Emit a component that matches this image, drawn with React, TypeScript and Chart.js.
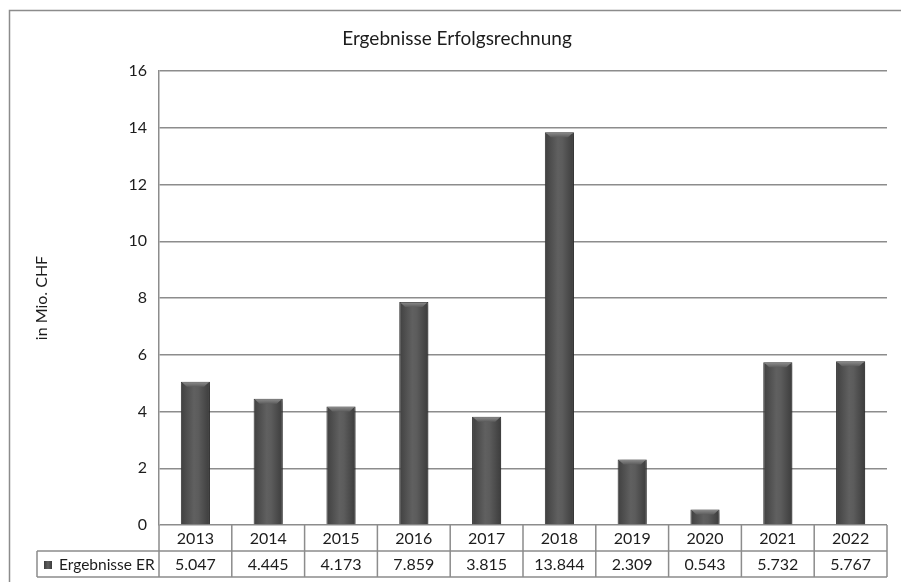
import React, { useEffect, useRef } from "react";
import { Chart, registerables } from "chart.js";

Chart.register(...registerables);

const chartTitle = "Ergebnisse Erfolgsrechnung";
const yAxisTitle = "in Mio. CHF";
const seriesName = "Ergebnisse ER";
const years = ["2013", "2014", "2015", "2016", "2017", "2018", "2019", "2020", "2021", "2022"];
const values = [5.047, 4.445, 4.173, 7.859, 3.815, 13.844, 2.309, 0.543, 5.732, 5.767];
const valueLabels = ["5.047", "4.445", "4.173", "7.859", "3.815", "13.844", "2.309", "0.543", "5.732", "5.767"];
const yTicks = { min: 0, max: 16, step: 2 };

const FONT = "Lato, 'DejaVu Sans', sans-serif";
const TEXT = "#1c1c1c";
const LINE = "#8c8c8c";
const BAR_PCT = 0.4;

export default function App() {
  const ref = useRef<HTMLCanvasElement | null>(null);

  useEffect(() => {
    const canvas = ref.current;
    if (!canvas) return;

    const framePlugin = {
      id: "frame",
      beforeDraw(chart: any) {
        const c = chart.ctx;
        c.save();
        c.fillStyle = "#ffffff";
        c.fillRect(0, 0, chart.width, chart.height);
        c.strokeStyle = LINE;
        c.lineWidth = 1.5;
        c.strokeRect(9.5, 10.5, chart.width + 20, chart.height + 20);
        c.fillStyle = TEXT;
        c.font = `19px ${FONT}`;
        c.textAlign = "center";
        c.textBaseline = "middle";
        c.fillText(chartTitle, 457, 39);
        c.restore();
      },
      beforeDatasetsDraw(chart: any) {
        const c = chart.ctx;
        c.save();
        c.shadowColor = "rgba(0,0,0,0.35)";
        c.shadowBlur = 4;
        c.shadowOffsetX = 2;
        c.shadowOffsetY = 1;
      },
      afterDatasetsDraw(chart: any) {
        const c = chart.ctx;
        c.restore();
        const meta = chart.getDatasetMeta(0);
        c.save();
        meta.data.forEach((el: any) => {
          const w = el.width;
          const l = el.x - w / 2;
          const r = el.x + w / 2;
          const t = el.y;
          const bh = Math.min(5, Math.abs(el.base - el.y));
          const g = c.createLinearGradient(0, t, 0, t + bh);
          g.addColorStop(0, "#8e8e8e");
          g.addColorStop(1, "#5c5c5c");
          c.fillStyle = g;
          c.beginPath();
          c.moveTo(l + 1, t + 0.5);
          c.lineTo(r - 1, t + 0.5);
          c.lineTo(r - 1 - bh, t + bh);
          c.lineTo(l + 1 + bh, t + bh);
          c.closePath();
          c.fill();
        });
        c.restore();
      },
      afterDraw(chart: any) {
        const c = chart.ctx;
        const xs = chart.scales.x;
        const area = chart.chartArea;
        const n = years.length;
        const cw = area.width / n;
        const y0 = area.bottom;
        const y1 = y0 + 26;
        const y2 = y1 + 26;
        const labelLeft = 37;
        c.save();
        c.strokeStyle = LINE;
        c.lineWidth = 1.5;
        c.beginPath();
        c.moveTo(labelLeft, y1);
        c.lineTo(area.right, y1);
        c.moveTo(labelLeft, y2);
        c.lineTo(area.right, y2);
        c.moveTo(labelLeft, y1);
        c.lineTo(labelLeft, y2);
        for (let i = 0; i <= n; i++) {
          const x = i < n ? xs.getPixelForValue(i) - cw / 2 : xs.getPixelForValue(n - 1) + cw / 2;
          c.moveTo(x, y0);
          c.lineTo(x, y2);
        }
        c.stroke();
        c.fillStyle = TEXT;
        c.font = `16px ${FONT}`;
        c.textAlign = "center";
        c.textBaseline = "middle";
        for (let i = 0; i < n; i++) {
          const x = xs.getPixelForValue(i);
          c.fillText(years[i], x, (y0 + y1) / 2 + 1);
          c.fillText(valueLabels[i], x, (y1 + y2) / 2 + 1);
        }
        c.textAlign = "left";
        c.font = `15.5px ${FONT}`;
        c.fillText(seriesName, 59, (y1 + y2) / 2 + 1);
        const sg = c.createLinearGradient(44, 0, 52, 0);
        sg.addColorStop(0, "#3c3c3c");
        sg.addColorStop(0.5, "#606060");
        sg.addColorStop(1, "#3c3c3c");
        c.fillStyle = sg;
        c.fillRect(44, 561, 8, 8);
        c.restore();
      },
    };

    const chart = new Chart(canvas, {
      type: "bar",
      data: {
        labels: years,
        datasets: [
          {
            label: seriesName,
            data: values,
            barPercentage: BAR_PCT,
            categoryPercentage: 1,
            borderColor: "#3a3a3a",
            borderWidth: 1,
            backgroundColor: (ctx: any) => {
              const ch = ctx.chart;
              const area = ch.chartArea;
              if (!area) return "#555555";
              const x = ch.scales.x.getPixelForValue(ctx.dataIndex);
              const w = (area.width / years.length) * BAR_PCT;
              const g = ch.ctx.createLinearGradient(x - w / 2, 0, x + w / 2, 0);
              g.addColorStop(0, "#404040");
              g.addColorStop(0.45, "#606060");
              g.addColorStop(0.6, "#5c5c5c");
              g.addColorStop(1, "#3c3c3c");
              return g;
            },
          },
        ],
      },
      options: {
        responsive: false,
        animation: false,
        devicePixelRatio: 1,
        layout: { padding: { left: 30, top: 71, right: 14, bottom: 57 } },
        plugins: {
          legend: { display: false },
          title: { display: false },
          tooltip: { enabled: false },
        },
        scales: {
          x: { display: false },
          y: {
            min: yTicks.min,
            max: yTicks.max,
            afterFit: (s: any) => {
              s.width = 129;
            },
            ticks: {
              stepSize: yTicks.step,
              color: TEXT,
              font: { family: FONT, size: 16 },
              padding: 12,
            },
            grid: { color: LINE, lineWidth: 1.5, drawTicks: false },
            border: { display: true, color: LINE, width: 1.5 },
            title: {
              display: true,
              text: yAxisTitle,
              color: TEXT,
              font: { family: FONT, size: 16 },
              padding: { top: 2, bottom: 0 },
            },
          },
        },
      },
      plugins: [framePlugin],
    });

    return () => chart.destroy();
  }, []);

  return (
    <div style={{ position: "absolute", left: 0, top: 0, width: 901, height: 582, background: "#fff" }}>
      <canvas ref={ref} width={901} height={582} style={{ width: 901, height: 582, display: "block" }} />
    </div>
  );
}
